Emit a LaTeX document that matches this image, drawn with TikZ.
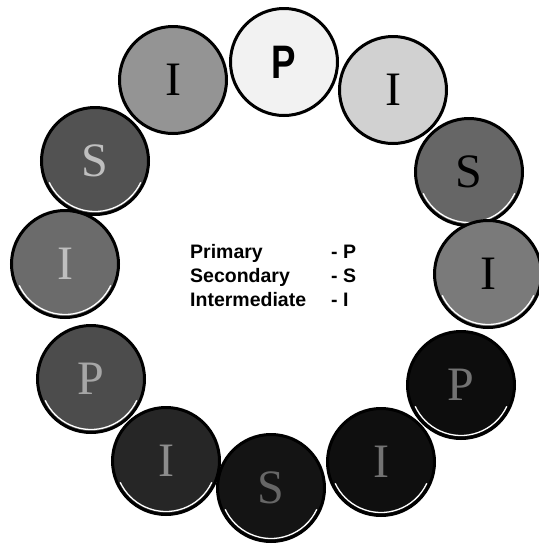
\documentclass[tikz,border=0pt]{standalone}
\usepackage{fontspec}
\setmainfont{Liberation Serif}
\newfontfamily\legendfont{Liberation Sans}
\begin{document}
\begin{tikzpicture}[x=1pt,y=-1pt,
  coin/.style={circle, draw=black, line width=3pt, minimum size=107pt, inner sep=0pt,
    font=\fontsize{48}{48}\selectfont},
  shine/.style={path picture={\draw[white, line width=1.3pt]
    (path picture bounding box.center) ++(25:50.5) arc (25:155:50.5);}},
  legend/.style={anchor=base west, inner sep=0pt,
    font=\legendfont\bfseries\fontsize{19.5}{19.5}\selectfont}]
\useasboundingbox (0,0) rectangle (539,550);

% coins, clockwise from the top
\node[coin, fill=black!5, font=\legendfont\bfseries\fontsize{47}{47}\selectfont] (p1) at (284,62) {\scalebox{0.78}[1]{P}};
\node[coin, fill=black!18] (i1) at (393,90) {I};
\node[coin, fill=black!60, shine] (s1) at (469,172) {S};
\node[coin, fill=black!52, shine] (i2) at (488,274) {I};
\node[coin, fill=black!95, shine, text=black!55] (p2) at (461,385) {P};
\node[coin, fill=black!94, shine, text=black!55] (i3) at (381,462) {I};
\node[coin, fill=black!92, shine, text=black!60] (s2) at (271,488) {S};
\node[coin, fill=black!85, shine, text=black!45] (i4) at (166,461) {I};
\node[coin, fill=black!70, shine, text=black!35] (p3) at (91,379) {P};
\node[coin, fill=black!58, shine, text=black!25] (i5) at (65,264) {I};
\node[coin, fill=black!68, shine, text=black!25] (s3) at (95,161) {S};
\node[coin, fill=black!42] (i6) at (173,80) {I};

% legend
\node[legend] (l1) at (190,258) {Primary};
\node[legend] (l2) at (190,282) {Secondary};
\node[legend] (l3) at (190,306) {Intermediate};
\node[legend] (k1) at (331,258) {- P};
\node[legend] (k2) at (331,282) {- S};
\node[legend] (k3) at (331,306) {- I};
\end{tikzpicture}
\end{document}
